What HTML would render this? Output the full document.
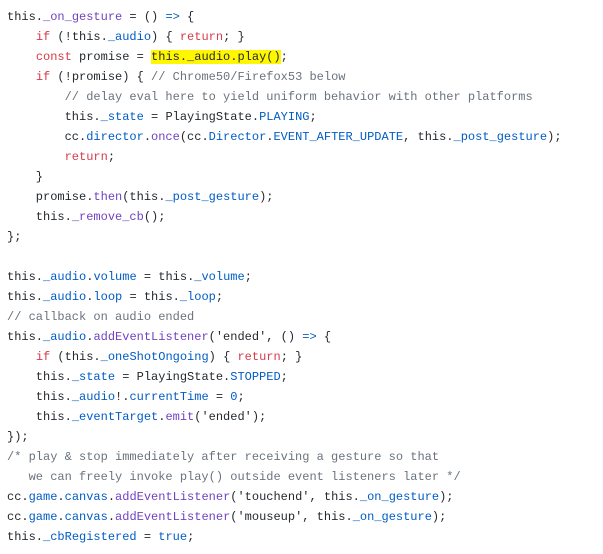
<!DOCTYPE html>
<html><head><meta charset="utf-8"><style>
body{margin:0;background:#fff;width:603px;height:554px;overflow:hidden}
pre{margin:0;position:absolute;left:7px;top:7px;font-family:"Liberation Mono",monospace;font-size:12px;line-height:20px;color:#24292e}
.k{color:#d73a49}.b{color:#005cc5}.p{color:#6f42c1}.c{color:#6a737d}.h{background:#fff700}
</style></head><body><pre>this.<span class="p">_on_gesture</span> = () <span class="b">=&gt;</span> {
    <span class="k">if</span> (!this.<span class="b">_audio</span>) { <span class="k">return</span>; }
    <span class="k">const</span> promise = <span class="h">this._audio.play()</span>;
    <span class="k">if</span> (!promise) { <span class="c">// Chrome50/Firefox53 below</span>
        <span class="c">// delay eval here to yield uniform behavior with other platforms</span>
        this.<span class="b">_state</span> = PlayingState.<span class="b">PLAYING</span>;
        cc.<span class="b">director</span>.<span class="p">once</span>(cc.<span class="b">Director</span>.<span class="b">EVENT_AFTER_UPDATE</span>, this.<span class="b">_post_gesture</span>);
        <span class="k">return</span>;
    }
    promise.<span class="p">then</span>(this.<span class="b">_post_gesture</span>);
    this.<span class="p">_remove_cb</span>();
};

this.<span class="b">_audio</span>.<span class="b">volume</span> = this.<span class="b">_volume</span>;
this.<span class="b">_audio</span>.<span class="b">loop</span> = this.<span class="b">_loop</span>;
<span class="c">// callback on audio ended</span>
this.<span class="b">_audio</span>.<span class="p">addEventListener</span>('ended', () <span class="b">=&gt;</span> {
    <span class="k">if</span> (this.<span class="b">_oneShotOngoing</span>) { <span class="k">return</span>; }
    this.<span class="b">_state</span> = PlayingState.<span class="b">STOPPED</span>;
    this.<span class="b">_audio</span>!.<span class="b">currentTime</span> = <span class="b">0</span>;
    this.<span class="b">_eventTarget</span>.<span class="p">emit</span>('ended');
});
<span class="c">/* play &amp; stop immediately after receiving a gesture so that
   we can freely invoke play() outside event listeners later */</span>
cc.<span class="b">game</span>.<span class="b">canvas</span>.<span class="p">addEventListener</span>('touchend', this.<span class="b">_on_gesture</span>);
cc.<span class="b">game</span>.<span class="b">canvas</span>.<span class="p">addEventListener</span>('mouseup', this.<span class="b">_on_gesture</span>);
this.<span class="b">_cbRegistered</span> = <span class="b">true</span>;</pre></body></html>
